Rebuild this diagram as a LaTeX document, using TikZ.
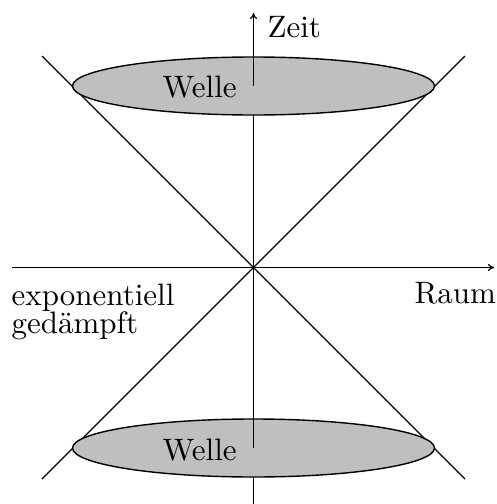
\documentclass[tikz,border=0pt]{standalone}
\usepackage{fontspec}
\usetikzlibrary{arrows.meta,shapes.geometric}
\begin{document}
\begin{tikzpicture}[x=1pt,y=-1pt,
  ln/.style={line width=1.4pt},
  arr/.style={ln,-{To[length=6pt,width=7pt]}},
  wave/.style={ellipse,draw,line width=1.4pt,fill=gray!50,minimum width=362pt,minimum height=58pt,inner sep=0pt},
  lab/.style={scale=3.1,inner sep=0pt,anchor=base west}]
\useasboundingbox (0,0) rectangle (496,504);
% coordinates
\coordinate (O) at (253.5,267.5);
\coordinate (d1a) at (42,56);
\coordinate (d1b) at (465,479);
\coordinate (d2a) at (465,56);
\coordinate (d2b) at (42,479);
\coordinate (xl) at (12,267.5);
\coordinate (xr) at (494,267.5);
\coordinate (yb) at (253.5,506);
\coordinate (yt) at (253.5,13);
% lines
\draw[ln] (d1a) -- (d1b);
\draw[ln] (d2a) -- (d2b);
\draw[arr] (xl) -- (xr);
\draw[ln] (yb) -- (yt);
% ellipses
\node[wave] (E1) at (253.5,86) {};
\node[wave] (E2) at (253.5,448) {};
% on-top segments
\draw[arr] (E1.center) -- (yt);
\draw[ln] (E2.center) -- (E2.north);
% labels
\node[lab] (zeit) at (267,37) {Zeit};
\node[lab] (w1) at (162,97) {Welle};
\node[lab] (w2) at (162,460) {Welle};
\node[lab] (raum) at (414,303) {Raum};
\node[lab] (exp) at (11,305) {exponentiell};
\node[lab] (ged) at (11,333) {gedämpft};
\end{tikzpicture}
\end{document}
